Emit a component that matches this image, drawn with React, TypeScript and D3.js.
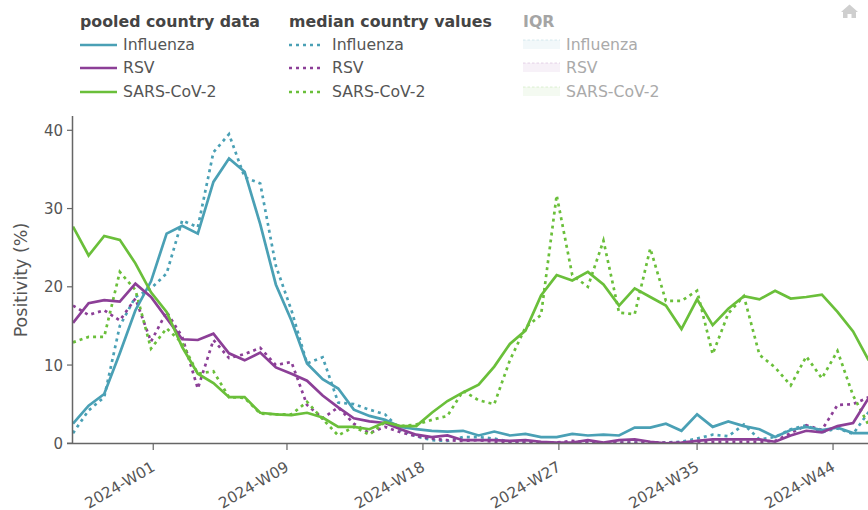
import React from "react";
import * as d3 from "d3";

const firstWeek = new Date(Date.UTC(2023, 10, 26));
const fluPooled = [2.5,4.8,6.3,11.5,17,20.7,26.8,27.8,26.8,33.4,36.4,34.7,28,20.3,15.7,10.2,8.2,7,4.3,3.5,3,2.1,1.8,1.6,1.5,1.6,1,1.5,1,1.2,0.8,0.8,1.2,1,1.1,1,2,2,2.5,1.6,3.7,2.1,2.8,2.2,1.8,0.8,1.7,2.1,1.7,2,1.3,1.3];
const rsvPooled = [15.4,17.9,18.3,18.1,20.4,18.7,16,13.3,13.2,14,11.5,10.6,11.6,9.7,8.9,8,6.1,4.6,3.2,2.8,2.6,1.8,1.1,0.8,1,0.4,0.4,0.4,0.3,0.4,0.2,0.1,0.1,0.4,0.1,0.4,0.5,0.2,0,0.1,0.3,0.5,0.5,0.5,0.5,0.2,1,1.6,1.4,2.2,2.6,5.8];
const covPooled = [27.7,24,26.5,26,23,19.3,16.8,12.3,8.9,7.7,5.9,5.9,3.9,3.7,3.6,3.9,3.3,2.1,2.1,1.8,2.7,2.2,2.2,3.9,5.4,6.5,7.5,9.8,12.7,14.4,18.9,21.5,20.8,21.9,20.3,17.6,19.8,18.7,17.6,14.6,18.4,15.1,17.2,18.8,18.4,19.5,18.5,18.7,19,16.8,14.3,10.6];
const fluMedian = [1.3,4.2,5.9,15,18.7,19.8,21.7,28.5,27.6,37.2,39.5,34,33.2,22.7,17,10.2,11,5.2,5,4.3,3.7,1.7,0.9,0.4,0.3,0.8,0.8,0.6,0.2,0.2,0.1,0.1,0.1,0.2,0.1,0.1,0.1,0.1,0.1,0.2,0.6,1.1,0.9,2.4,0.5,0.8,1.8,2.3,1.4,1.9,1.2,4];
const rsvMedian = [17.6,16.4,17,15.7,18.5,13,16.8,13.6,7,13.2,10.9,11.4,12.2,10,10.4,4.9,3.2,4.6,2.5,1.3,2.1,1.4,0.9,0.6,0.4,0.3,0.4,0.2,0.1,0.1,0.1,0.1,0.3,0.1,0.1,0.1,0.1,0.1,0.1,0.1,0.1,0.2,0.2,0.2,0.2,0.3,1.3,2.3,1.7,4.9,5,5.9];
const covMedian = [12.9,13.6,13.6,21.9,19.6,12.1,14.7,12.8,8.9,9.2,5.9,5.8,3.8,3.7,3.7,5.3,3.1,1,2.1,1.1,2.7,2.2,2.4,3,3.5,6.7,5.5,5,10.6,14.8,16.4,31.7,21.5,20,25.9,16.7,16.5,24.9,18.2,18.2,19.5,11.4,16.6,18.8,11.3,9.7,7.4,11.1,8.3,11.8,6.1,2.3];
const tickDates = [[2024,0],[2024,2],[2024,4],[2024,6],[2024,8],[2024,10]];
const tickLabels = ["2024-W01","2024-W09","2024-W18","2024-W27","2024-W35","2024-W44"];
const yTicks = [0,10,20,30,40];
const legendNames = ["Influenza","RSV","SARS-CoV-2"];
const colours = ["#4aa0b5","#8c3f97","#6abf3a"];
const legendTitles = ["pooled country data","median country values","IQR"];

const FONT = "'DejaVu Sans', Verdana, sans-serif";
const pooled = [fluPooled, rsvPooled, covPooled];
const medians = [fluMedian, rsvMedian, covMedian];
const week = (i: number) => new Date(firstWeek.getTime() + i * 7 * 864e5);

export default function App() {
  const x = d3.scaleUtc().domain([firstWeek, week(51)]).range([73, 868.7]);
  const y = d3.scaleLinear().domain([0, 40]).range([443.3, 130.3]);
  const line = d3.line<number>().x((_, i) => x(week(i))).y((d) => y(d));
  const legendX = [80, 289, 523];
  const rowY = [45, 68, 92];
  return (
    <svg width={868} height={510} style={{ position: "fixed", left: 0, top: 0, background: "#fff" }} fontFamily={FONT}>
      <defs>
        <clipPath id="plot"><rect x={72} y={116} width={797} height={328} /></clipPath>
      </defs>
      {legendTitles.map((t, i) => (
        <text key={t} x={legendX[i]} y={27} fontSize={15.8} fontWeight={700} fill={i === 2 ? "#a5a5a5" : "#444"}>{t}</text>
      ))}
      {legendNames.map((n, i) => (
        <g key={n}>
          <line x1={80} x2={117} y1={rowY[i]} y2={rowY[i]} stroke={colours[i]} strokeWidth={2.7} />
          <text x={123} y={rowY[i] + 5} fontSize={15.7} fill="#555">{n}</text>
          <line x1={289} x2={324} y1={rowY[i]} y2={rowY[i]} stroke={colours[i]} strokeWidth={2.7} strokeDasharray="3 4" />
          <text x={332} y={rowY[i] + 5} fontSize={15.7} fill="#555">{n}</text>
          <rect x={523} y={rowY[i] - 5} width={37} height={9} fill={colours[i]} opacity={0.07} />
          <line x1={523} x2={560} y1={rowY[i] - 5} y2={rowY[i] - 5} stroke={colours[i]} opacity={0.13} strokeWidth={1.5} strokeDasharray="2.5 2" />
          <text x={566} y={rowY[i] + 5} fontSize={15.7} fill="#aaa">{n}</text>
        </g>
      ))}
      <path d="M841 12 L849.5 4.5 L858 12 L856 12 L856 18 L851.5 18 L851.5 14 L847.5 14 L847.5 18 L843 18 L843 12 Z" fill="#cfcfcf" />
      <g clipPath="url(#plot)" fill="none">
        {medians.map((s, i) => (
          <path key={i} d={line(s) ?? ""} stroke={colours[i]} strokeWidth={2.7} strokeDasharray="3 4" />
        ))}
        {pooled.map((s, i) => (
          <path key={i} d={line(s) ?? ""} stroke={colours[i]} strokeWidth={2.7} />
        ))}
      </g>
      <line x1={72.5} x2={72.5} y1={116} y2={443.5} stroke="#666" strokeWidth={1.5} />
      <line x1={67} x2={868} y1={443.5} y2={443.5} stroke="#666" strokeWidth={1.5} />
      {yTicks.map((t) => (
        <g key={t}>
          <line x1={67} x2={72} y1={y(t)} y2={y(t)} stroke="#666" strokeWidth={1.2} />
          <text x={63} y={y(t) + 5.5} textAnchor="end" fontSize={15} fill="#555">{t}</text>
        </g>
      ))}
      {tickLabels.map((t, i) => {
        const px = x(new Date(Date.UTC(tickDates[i][0], tickDates[i][1], 1)));
        return (
          <g key={t}>
            <line x1={px} x2={px} y1={443.5} y2={450} stroke="#666" strokeWidth={1.2} />
            <text transform={`translate(${px + 3},${470}) rotate(-30)`} textAnchor="end" fontSize={15.2} fill="#555">{t}</text>
          </g>
        );
      })}
      <text transform="translate(27,280) rotate(-90)" textAnchor="middle" fontSize={17.5} fill="#555">Positivity (%)</text>
    </svg>
  );
}
